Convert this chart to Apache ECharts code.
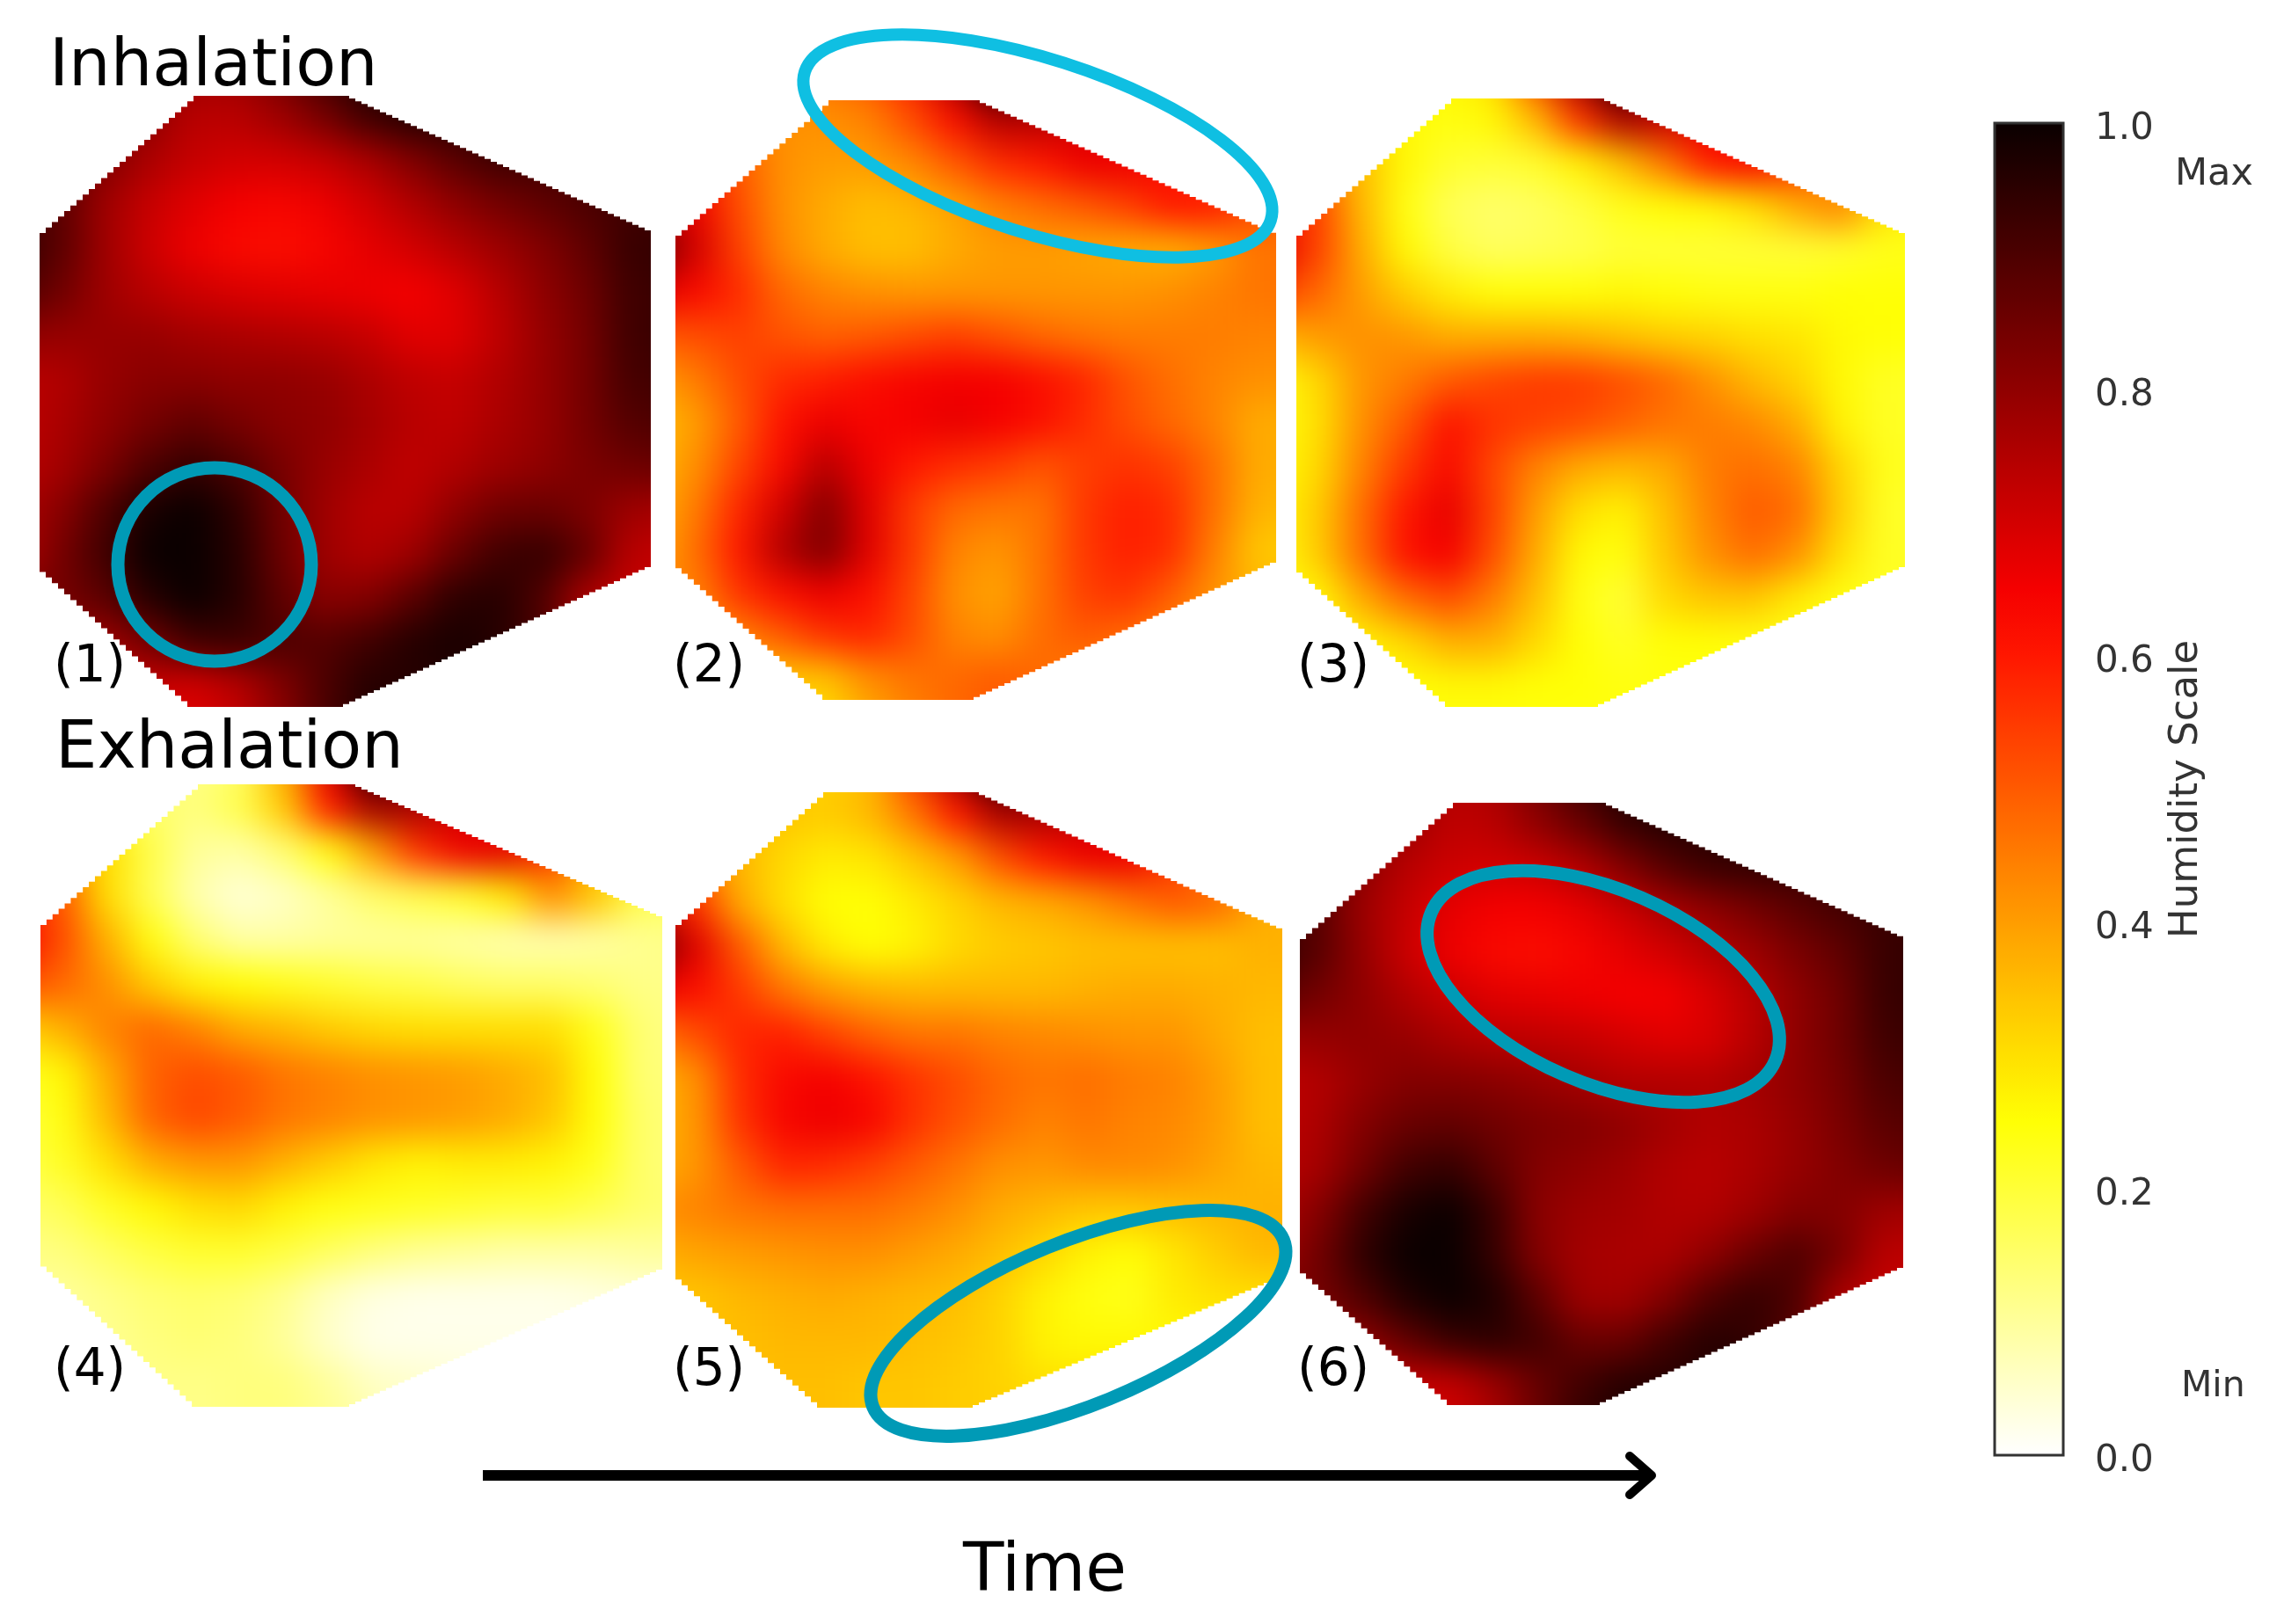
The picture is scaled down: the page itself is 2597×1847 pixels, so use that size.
<!DOCTYPE html>
<html>
<head>
<meta charset="utf-8">
<title>Humidity maps</title>
<script src="https://cdn.jsdelivr.net/npm/echarts@6/dist/echarts.min.js"></script>
<style>
  html, body { margin: 0; padding: 0; background: #fff; }
  body { width: 2597px; height: 1847px; position: relative; overflow: hidden; }
  .panel { position: absolute; filter: blur(20px); }
  #overlay { position: absolute; left: 0; top: 0; width: 2597px; height: 1847px; z-index: 5; }
</style>
</head>
<body>
<div id="overlay"></div>
<script>
// humidity, in hundredths of the colour scale, top row first
const panel1 = [
  [92,92,88,84,78,78,84,92,98,98,98,98,96,94,94,94],
  [92,90,86,80,74,74,78,84,92,96,96,96,94,94,94,94],
  [90,88,82,76,72,70,70,72,76,82,88,92,92,92,92,92],
  [92,88,78,72,68,65,64,66,70,75,80,84,87,90,92,92],
  [94,88,78,71,66,63,62,64,67,70,74,78,82,87,93,94],
  [90,85,78,74,71,69,68,67,66,65,68,74,80,85,92,93],
  [80,79,79,79,77,76,75,74,72,68,68,73,79,84,92,93],
  [74,75,79,81,81,80,80,79,76,73,72,75,79,84,91,92],
  [73,76,80,84,87,84,81,80,77,74,73,76,79,84,89,90],
  [74,77,83,90,94,90,84,79,76,73,75,78,80,83,85,86],
  [76,81,90,98,100,95,85,78,74,74,80,85,86,83,78,76],
  [75,84,92,100,100,96,86,78,75,78,86,92,94,87,74,72],
  [84,84,88,96,100,96,88,81,82,88,95,96,90,76,72,72],
  [78,78,78,84,92,93,90,89,92,96,98,96,90,78,76,76],
  [72,72,72,72,70,74,82,90,96,96,96,96,96,96,96,96],
  [70,70,70,70,68,72,80,90,96,96,96,96,96,96,96,96]
];
const panel2 = [
  [55,55,50,45,46,50,58,76,100,86,72,66,62,60,50,50],
  [55,52,46,42,42,44,52,62,74,74,70,66,62,55,50,50],
  [66,60,50,42,40,40,43,50,57,60,66,66,62,55,50,50],
  [76,66,52,42,38,35,36,39,44,47,50,54,60,60,52,50],
  [86,70,54,43,38,35,35,38,40,40,39,38,37,40,46,46],
  [68,63,57,48,44,42,41,41,41,41,41,41,42,44,46,46],
  [50,52,54,51,49,50,52,54,51,48,46,45,45,45,44,44],
  [40,45,52,57,59,62,64,65,65,62,58,51,47,44,42,42],
  [35,40,50,61,66,64,65,67,65,62,57,52,48,44,38,38],
  [36,42,53,63,74,66,60,57,55,51,54,56,54,47,38,38],
  [37,45,58,70,82,68,55,48,46,46,55,59,57,47,37,36],
  [38,47,60,75,83,68,55,44,41,46,55,59,57,45,34,33],
  [44,44,56,62,66,62,53,42,39,46,54,56,50,42,36,36],
  [40,40,44,50,56,58,52,44,42,47,50,48,44,40,36,36],
  [34,34,34,34,34,42,46,48,50,48,44,42,40,38,36,36],
  [30,30,30,30,30,38,44,48,50,48,44,42,40,38,36,36]
];
const panel3 = [
  [28,28,27,26,26,30,52,78,100,80,66,60,50,40,30,30],
  [40,36,30,26,24,26,36,56,76,72,66,60,50,35,30,30],
  [55,45,35,26,21,20,21,27,35,46,60,64,56,40,28,28],
  [62,54,36,24,17,15,16,19,23,25,26,30,38,44,30,26],
  [68,54,38,26,19,16,17,18,20,20,20,20,20,21,23,23],
  [54,48,40,33,28,25,25,25,26,25,24,24,24,25,25,25],
  [36,40,42,41,38,38,38,37,35,33,32,30,29,26,25,25],
  [24,31,41,45,50,53,55,55,52,48,42,36,32,26,22,22],
  [24,30,42,50,61,56,54,52,49,46,45,43,38,27,22,22],
  [25,31,44,55,63,53,44,38,36,38,45,47,44,32,23,22],
  [26,33,47,60,67,54,40,30,27,35,44,50,47,33,22,21],
  [24,33,47,61,65,52,38,26,24,34,42,47,42,30,22,22],
  [26,26,38,47,52,45,35,24,20,31,34,34,28,24,22,22],
  [25,25,27,31,37,37,31,25,22,25,25,24,23,22,22,22],
  [25,25,25,25,26,26,25,25,24,24,24,24,24,24,24,24],
  [24,24,24,24,24,24,24,24,24,24,24,24,24,24,24,24]
];
const panel4 = [
  [16,16,14,12,12,15,38,68,100,86,72,66,60,50,40,40],
  [30,26,20,15,13,18,34,60,78,76,70,64,50,40,30,30],
  [50,42,30,18,10,9,14,24,40,56,66,68,56,34,20,20],
  [60,50,30,17,8,4,6,10,15,18,21,28,42,34,18,16],
  [64,52,37,24,14,9,9,10,10,10,9,8,8,9,11,12],
  [52,48,42,33,27,25,23,21,19,18,16,15,15,14,12,12],
  [32,37,44,48,44,38,36,33,31,30,30,30,30,23,14,12],
  [22,26,38,49,52,50,46,44,42,41,40,38,35,25,14,13],
  [19,24,36,49,53,50,46,44,42,41,40,38,34,25,15,13],
  [18,22,30,38,41,41,37,33,29,27,28,28,27,23,15,13],
  [15,17,22,26,30,31,27,24,23,22,21,20,20,18,15,14],
  [12,13,16,19,21,21,19,16,13,11,10,9,9,9,10,10],
  [10,10,12,14,15,14,11,6,3,2,2,2,2,3,4,4],
  [10,10,11,13,14,13,10,5,2,2,2,2,2,2,2,2],
  [11,11,11,12,12,13,13,10,6,5,4,4,4,4,4,4],
  [12,12,12,12,12,13,13,11,8,6,4,4,4,4,4,4]
];
const panel5 = [
  [34,34,33,32,32,36,55,78,100,86,72,66,60,55,50,50],
  [40,38,36,34,33,36,46,60,76,76,72,66,58,48,40,38],
  [50,44,36,31,28,29,34,40,52,60,66,66,55,42,36,36],
  [70,56,38,30,25,25,28,32,36,38,41,46,50,48,38,36],
  [86,68,50,36,28,25,27,31,33,34,35,35,35,35,37,37],
  [66,62,55,46,40,37,36,36,36,36,37,38,38,37,36,36],
  [46,52,58,59,54,49,46,46,44,43,42,41,41,38,35,35],
  [36,42,57,63,65,61,56,52,48,46,47,45,44,40,35,35],
  [36,41,56,64,66,64,56,51,47,44,46,44,43,40,35,35],
  [37,41,50,58,57,54,50,46,42,41,43,43,42,39,36,36],
  [42,44,46,47,47,47,45,42,38,36,34,34,35,36,37,37],
  [37,39,40,41,42,42,40,38,35,31,27,25,29,33,36,36],
  [34,34,36,37,38,37,36,35,32,27,24,23,28,30,30,30],
  [35,35,35,36,36,36,35,34,32,27,26,26,26,26,26,26],
  [35,35,35,35,35,34,34,33,32,30,30,30,30,30,30,30],
  [35,35,35,35,35,34,34,33,33,32,32,32,32,32,32,32]
];
const panel6 = [
  [92,90,86,82,74,76,84,92,98,98,98,98,96,94,94,94],
  [92,90,84,78,73,74,80,86,93,96,96,96,94,94,94,94],
  [90,88,80,74,71,70,71,75,82,89,93,94,94,94,94,94],
  [92,88,78,72,67,65,65,67,71,76,80,84,88,91,93,93],
  [94,88,79,71,66,63,62,64,67,70,74,78,83,87,93,94],
  [88,84,80,75,71,68,67,66,65,65,69,74,80,85,93,94],
  [78,79,80,79,76,74,73,72,70,68,69,74,80,85,92,93],
  [73,75,79,82,82,81,79,77,75,75,75,77,80,84,90,91],
  [73,76,82,86,87,85,83,82,80,77,75,76,79,83,88,89],
  [74,77,85,92,94,88,82,80,78,75,74,76,79,82,85,86],
  [76,82,92,98,100,93,81,78,77,75,75,78,82,82,78,77],
  [78,85,95,100,100,94,82,77,76,76,80,86,90,84,74,73],
  [84,84,90,97,100,97,88,78,77,82,90,94,90,76,72,72],
  [78,78,80,87,93,95,92,86,86,92,96,94,88,78,76,76],
  [72,72,72,72,72,78,86,92,96,96,96,96,96,96,96,96],
  [70,70,70,70,70,76,86,94,97,97,97,97,97,97,97,97]
];
const panelLabels = ['(1)', '(2)', '(3)', '(4)', '(5)', '(6)'];
const colorTicks = [0, 0.2, 0.4, 0.6, 0.8, 1.0];

// reversed "hot" colormap, one stop every 0.05 of the scale
const hotColors = [
  '#ffffff','#ffffcd','#ffff9b','#ffff69','#ffff37','#ffff05','#ffe000','#ffbf00','#ff9d00',
  '#ff7c00','#ff5a00','#ff3900','#ff1700','#f50000','#d30000','#b20000','#900000','#6f0000',
  '#4d0000','#2c0000','#0a0000'
];

// x0..x1, y0..y1 is the box of each hexagon, tx the top and bottom corners, ly/ry the side corners
const layout = [
  { x0: 45, x1: 740, y0: 109, y1: 804, tx: [220, 390], ly: [265, 644], ry: [265, 645], label: [61, 760] },
  { x0: 768, x1: 1451, y0: 114, y1: 796, tx: [942, 1107], ly: [268, 640], ry: [268, 640], label: [765, 760] },
  { x0: 1474, x1: 2166, y0: 112, y1: 804, tx: [1650, 1817], ly: [268, 645], ry: [268, 645], label: [1475, 760] },
  { x0: 46, x1: 753, y0: 892, y1: 1600, tx: [225, 397], ly: [1052, 1434], ry: [1045, 1444], label: [61, 1560] },
  { x0: 768, x1: 1458, y0: 901, y1: 1601, tx: [936, 1106], ly: [1052, 1449], ry: [1059, 1453], label: [765, 1560] },
  { x0: 1478, x1: 2164, y0: 913, y1: 1598, tx: [1652, 1819], ly: [1068, 1442], ry: [1068, 1442], label: [1475, 1560] }
];
const PAD = 50;
const STEP = 7;
const TEAL = '#009ab6';
const SKY = '#0fbfe2';
const FONT = '"DejaVu Sans"';

// the source is a coarse raster, so its slanted edges are stepped
function steppedEdge(a, b) {
  const pts = [];
  const n = Math.max(1, Math.round(Math.abs(b[0] - a[0]) / STEP));
  for (let i = 0; i < n; i++) {
    const x0 = a[0] + (b[0] - a[0]) * i / n;
    const x1 = a[0] + (b[0] - a[0]) * (i + 1) / n;
    const y0 = a[1] + (b[1] - a[1]) * i / n;
    const y1 = a[1] + (b[1] - a[1]) * (i + 1) / n;
    pts.push([x0, y0], [x1, y0]);
    if (i === n - 1) pts.push([x1, y1]);
  }
  return pts;
}

[panel1, panel2, panel3, panel4, panel5, panel6].forEach((rows, idx) => {
  const b = layout[idx];
  const left = b.x0 - PAD;
  const top = b.y0 - PAD;
  const el = document.createElement('div');
  el.className = 'panel';
  el.style.left = left + 'px';
  el.style.top = top + 'px';
  el.style.width = (b.x1 - b.x0 + PAD * 2) + 'px';
  el.style.height = (b.y1 - b.y0 + PAD * 2) + 'px';
  const corners = [
    ...steppedEdge([b.x0, b.ly[0]], [b.tx[0], b.y0]),
    ...steppedEdge([b.tx[1], b.y0], [b.x1, b.ry[0]]),
    ...steppedEdge([b.x1, b.ry[1]], [b.tx[1], b.y1]),
    ...steppedEdge([b.tx[0], b.y1], [b.x0, b.ly[1]])
  ];
  el.style.clipPath = 'polygon(' + corners.map(c => (c[0] - left) + 'px ' + (c[1] - top) + 'px').join(',') + ')';
  document.body.appendChild(el);

  const data = [];
  rows.forEach((row, r) => row.forEach((v, c) => data.push([c, r, v])));

  const chart = echarts.init(el);
  chart.setOption({
    animation: false,
    grid: { left: 0, right: 0, top: 0, bottom: 0 },
    xAxis: { type: 'category', show: false, data: rows[0].map((_, i) => i) },
    yAxis: { type: 'category', show: false, inverse: true, data: rows.map((_, i) => i) },
    visualMap: { show: false, min: 0, max: 100, inRange: { color: hotColors } },
    series: [{ type: 'heatmap', data, progressive: 0 }]
  });
});

const ring = (x, y, rx, ry, deg, color, width) => ({
  type: 'ellipse', x, y, rotation: deg * Math.PI / 180,
  shape: { cx: 0, cy: 0, rx, ry },
  style: { fill: 'none', stroke: color, lineWidth: width },
  z: 20
});
const label = (text, x, y, size, color) => ({
  type: 'text', x, y, z: 20,
  style: { text, fontFamily: FONT, fontSize: size, fill: color || '#000', textAlign: 'left', textVerticalAlign: 'middle' }
});

const overlay = echarts.init(document.getElementById('overlay'));
overlay.setOption({
  animation: false,
  backgroundColor: 'transparent',
  grid: { left: 2268, top: 140, width: 78, height: 1515 },
  xAxis: { type: 'value', show: false, min: 0, max: 1 },
  yAxis: {
    type: 'value', position: 'right', min: colorTicks[0], max: colorTicks[colorTicks.length - 1], interval: 0.2,
    name: 'Humidity Scale', nameLocation: 'middle', nameRotate: 90, nameGap: 118,
    nameTextStyle: { fontFamily: FONT, fontSize: 45, color: '#333' },
    axisLine: { show: true, lineStyle: { color: '#333', width: 2 } },
    axisTick: { show: true, length: 17, lineStyle: { color: '#333', width: 2 } },
    axisLabel: {
      margin: 36,
      formatter: v => '{tick|' + v.toFixed(1) + '}',
      rich: { tick: { fontFamily: FONT, fontSize: 42, color: '#333', lineHeight: 56, verticalAlign: 'bottom' } }
    },
    splitLine: { show: false }
  },
  visualMap: {
    type: 'continuous', seriesIndex: [], min: 0, max: 100, calculable: false, realtime: false,
    left: 2268, top: 140, itemWidth: 78, itemHeight: 1515, padding: 0, text: null, hoverLink: false,
    inRange: { color: hotColors }, z: 1
  },
  series: [],
  graphic: { elements: [
    label('Inhalation', 56, 78, 75),
    label('Exhalation', 63, 854, 75),
    ...layout.map((b, i) => label(panelLabels[i], b.label[0], b.label[1], 58)),
    label('Max', 2473, 199, 43, '#333'),
    label('Min', 2480, 1577, 41, '#333'),
    label('Time', 1095, 1789, 76),
    ring(244, 642, 110, 110, 0, TEAL, 15),
    ring(1180, 166, 278, 99, -17.7, SKY, 14),
    ring(1226, 1505, 252, 93, 22.2, TEAL, 15),
    ring(1823, 1122, 213, 110, -23.4, TEAL, 15),
    { type: 'rect', z: 19, shape: { x: 2268, y: 140, width: 78, height: 1515 }, style: { fill: 'none', stroke: '#333', lineWidth: 3 } },
    { type: 'line', z: 20, shape: { x1: 549, y1: 1678, x2: 1878, y2: 1678 }, style: { stroke: '#000', lineWidth: 12 } },
    { type: 'polyline', z: 20, shape: { points: [[1853, 1656], [1878, 1678], [1853, 1700]] }, style: { stroke: '#000', fill: 'none', lineWidth: 10, lineCap: 'round', lineJoin: 'round' } }
  ] }
});
</script>
</body>
</html>
